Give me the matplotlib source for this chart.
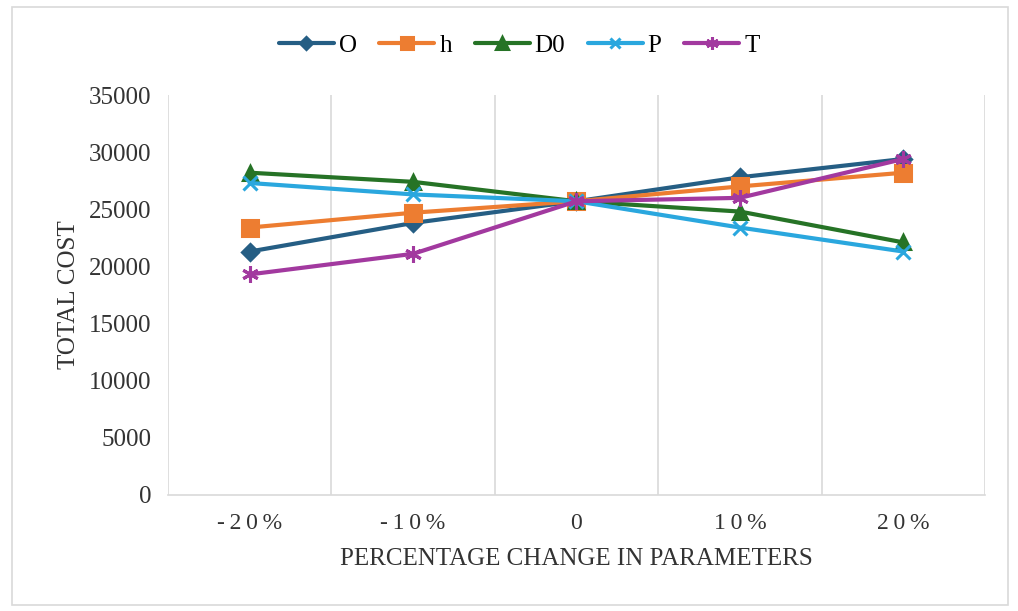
import matplotlib
matplotlib.use("Agg")
import matplotlib.pyplot as plt
from matplotlib.patches import Rectangle

categories = ["-20%", "-10%", "0", "10%", "20%"]
series_names = ["O", "h", "D0", "P", "T"]
O_vals = [21300, 23800, 25700, 27800, 29400]
h_vals = [23400, 24700, 25700, 27000, 28200]
D0_vals = [28200, 27400, 25700, 24800, 22100]
P_vals = [27300, 26300, 25700, 23400, 21300]
T_vals = [19300, 21100, 25700, 26000, 29400]
y_ticks = [0, 5000, 10000, 15000, 20000, 25000, 30000, 35000]

colors = ["#255E84", "#ED7D31", "#267326", "#2AA7DE", "#A2399F"]
markers = ["D", "s", "^", "x", (6, 2, 0)]
msizes = [8, 12, 10, 10, 12]
legend_msizes = [6, 9, 8, 7, 9]

plt.rcParams["font.family"] = ["Liberation Serif", "DejaVu Serif"]

fig = plt.figure(figsize=(10.18, 6.11), dpi=100)
ax = fig.add_axes([0.165, 0.19, 0.8026, 0.6545])

x = list(range(len(categories)))
for vals, name, c, m, ms in zip([O_vals, h_vals, D0_vals, P_vals, T_vals],
                                 series_names, colors, markers, msizes):
    ax.plot(x, vals, color=c, lw=3.0, marker=m, markersize=ms,
            markeredgecolor=c, markerfacecolor=c, markeredgewidth=2.2,
            label=name, solid_capstyle="round", zorder=3)

ax.set_xlim(-0.5, len(categories) - 0.5)
ax.set_ylim(0, 35000)
ax.set_yticks(y_ticks)
ax.set_yticklabels([str(v) for v in y_ticks], fontsize=18)
ax.set_xticks(x)
ax.set_xticklabels(["\u2009".join(c) for c in categories], fontsize=17)
for b in [i + 0.5 for i in range(-1, len(categories))]:
    ax.axvline(b, color="#D9D9D9", lw=1.2, zorder=1)
for s in ["top", "left", "right"]:
    ax.spines[s].set_visible(False)
ax.spines["bottom"].set_color("#D9D9D9")
ax.spines["bottom"].set_linewidth(1.2)
ax.tick_params(axis="both", length=0, colors="#333333")
ax.tick_params(axis="y", pad=12)
ax.tick_params(axis="x", pad=13)

ax.set_xlabel("PERCENTAGE CHANGE IN PARAMETERS", fontsize=18, color="#333333", labelpad=10)
ax.set_ylabel("TOTAL COST", fontsize=18, color="#333333", labelpad=6)

leg = fig.legend(loc="upper center", bbox_to_anchor=(0.51, 0.98), ncol=5,
                 frameon=False, fontsize=18, handlelength=2.2,
                 columnspacing=0.9, handletextpad=0.2)
for h, ms in zip(leg.legend_handles, legend_msizes):
    h.set_markersize(ms)

fig.patches.append(Rectangle((0.012, 0.01), 0.978, 0.978, transform=fig.transFigure,
                             fill=False, edgecolor="#D9D9D9", lw=1.2))

fig.savefig("out.png", dpi=100)
